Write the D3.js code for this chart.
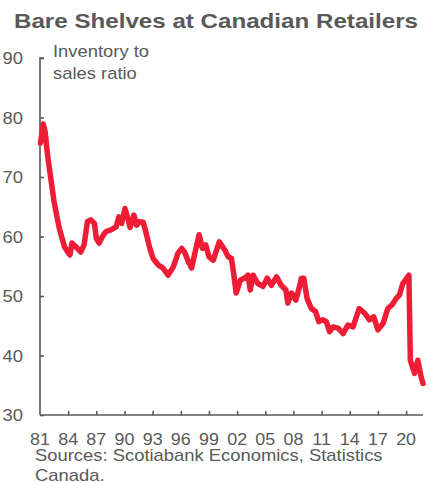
<!DOCTYPE html>
<html>
<head>
<meta charset="utf-8">
<script src="https://cdn.jsdelivr.net/npm/d3@7"></script>
<style>
  html, body { margin: 0; padding: 0; background: #ffffff; }
  svg { display: block; font-family: "Liberation Sans", Arial, sans-serif; }
</style>
</head>
<body>
<svg id="chart" width="440" height="483"></svg>
<script>
// Inventory-to-sales ratio, Canadian retailers (decimal year, ratio)
const years = [
  1981.05, 1981.35, 1981.55, 1981.8, 1982.2, 1982.5, 1983.05, 1983.6, 1983.95, 1984.2,
  1984.4, 1984.8, 1985.35, 1985.7, 1986.05, 1986.4, 1986.8, 1987.0, 1987.3, 1987.65,
  1988.0, 1988.55, 1989.1, 1989.4, 1989.7, 1990.05, 1990.4, 1990.6, 1991.0, 1991.3,
  1991.6, 1992.0, 1992.35, 1992.7, 1993.05, 1993.6, 1994.1, 1994.65, 1995.2, 1995.7,
  1996.1, 1996.4, 1996.8, 1997.15, 1997.5, 1997.95, 1998.3, 1998.65, 1999.0, 1999.45,
  2000.1, 2000.7, 2001.05, 2001.4, 2001.65, 2001.9, 2002.35, 2002.8, 2003.15, 2003.4,
  2003.7, 2004.2, 2004.75, 2005.2, 2005.65, 2006.2, 2006.7, 2007.2, 2007.4, 2007.8,
  2008.25, 2008.6, 2008.85, 2009.1, 2009.45, 2009.9, 2010.35, 2010.7, 2011.15, 2011.5,
  2011.85, 2012.2, 2012.75, 2013.3, 2013.8, 2014.35, 2015.0, 2015.6, 2016.1, 2016.55,
  2017.0, 2017.55, 2018.05, 2018.5, 2018.95, 2019.3, 2019.65, 2020.3, 2020.45, 2020.9,
  2021.25, 2021.6, 2021.8
];
const ratio = [
  75.7, 78.9, 77.6, 73.7, 69.2, 65.8, 61.4, 58.3, 57.4, 56.9,
  58.9, 58.3, 57.4, 58.6, 62.5, 62.8, 62.2, 59.7, 58.9, 60.0,
  60.8, 61.1, 61.6, 63.3, 62.2, 64.7, 62.8, 61.5, 63.6, 61.9,
  62.5, 62.4, 60.3, 58.0, 56.3, 55.2, 54.7, 53.5, 54.9, 57.2,
  58.0, 57.4, 55.8, 54.7, 57.2, 60.3, 58.0, 58.6, 56.6, 56.0,
  59.1, 57.7, 56.6, 56.3, 53.5, 50.5, 52.7, 53.0, 53.5, 51.0,
  53.5, 52.1, 51.6, 53.0, 51.8, 53.2, 51.8, 51.0, 48.8, 50.5,
  49.3, 51.3, 53.0, 53.0, 49.6, 47.9, 47.4, 45.7, 46.0, 45.7,
  44.0, 44.8, 44.6, 43.7, 45.1, 44.8, 47.9, 47.1, 46.0, 46.5,
  44.3, 45.4, 47.9, 48.5, 49.6, 50.2, 52.1, 53.5, 39.2, 37.0,
  39.2, 36.4, 35.3
];
const xTicks = [1981, 1984, 1987, 1990, 1993, 1996, 1999, 2002, 2005, 2008, 2011, 2014, 2017, 2020];
const yTicks = [30, 40, 50, 60, 70, 80, 90];

const title = "Bare Shelves at Canadian Retailers";
const unitLines = ["Inventory to", "sales ratio"];
const sourceLines = ["Sources: Scotiabank Economics, Statistics", "Canada."];

const grey = "#595959";
const lineRed = "#ee1c34";

const svg = d3.select("#chart");

const x = d3.scaleLinear().domain([1981, 2021.8]).range([40, 423]);
const y = d3.scaleLinear().domain([30, 90]).range([415, 58]);

// Title
svg.append("text")
  .attr("x", 14).attr("y", 27.5)
  .attr("font-size", 21).attr("font-weight", "bold")
  .attr("fill", grey)
  .attr("textLength", 404).attr("lengthAdjust", "spacingAndGlyphs")
  .text(title);

// Axes
const yAxis = d3.axisRight(y).tickValues(yTicks).tickSize(4).tickFormat("");
const gy = svg.append("g").attr("transform", `translate(${x(1981)},0)`).call(yAxis);
gy.select(".domain").attr("d", `M4,${y(90)}H0V${y(30)}`);

const xAxis = d3.axisTop(x).tickValues(xTicks.slice(1)).tickSize(4).tickFormat("");
const gx = svg.append("g").attr("transform", `translate(0,${y(30)})`).call(xAxis);
gx.select(".domain").attr("d", `M${x(1981)},0H${x.range()[1]}`);

svg.selectAll(".domain, .tick line").attr("stroke", grey).attr("stroke-width", 1.6);

// Y tick labels
svg.append("g").selectAll("text").data(yTicks).join("text")
  .attr("transform", d => `translate(23,${y(d) + 6}) scale(1.15,1)`)
  .attr("text-anchor", "end")
  .attr("font-size", 16).attr("fill", grey)
  .text(d => d);

// X tick labels (two-digit years)
svg.append("g").selectAll("text").data(xTicks).join("text")
  .attr("transform", d => `translate(${x(d)},445) scale(1.12,1)`)
  .attr("text-anchor", "middle")
  .attr("font-size", 16).attr("fill", grey)
  .text(d => String(d).slice(2));

// Unit annotation
svg.append("g").selectAll("text").data(unitLines).join("text")
  .attr("transform", (d, i) => `translate(53,${57 + i * 22}) scale(1.15,1)`)
  .attr("font-size", 16).attr("fill", grey)
  .text(d => d);

// Source note
svg.append("g").selectAll("text").data(sourceLines).join("text")
  .attr("transform", (d, i) => `translate(35,${461 + i * 20}) scale(1.15,1)`)
  .attr("font-size", 16).attr("fill", grey)
  .text(d => d);

// Series line
const series = years.map((yr, i) => ({ yr, v: ratio[i] }));
svg.append("path")
  .datum(series)
  .attr("fill", "none")
  .attr("stroke", lineRed)
  .attr("stroke-width", 5.5)
  .attr("stroke-linejoin", "round")
  .attr("stroke-linecap", "round")
  .attr("d", d3.line().x(d => x(d.yr)).y(d => y(d.v)));
</script>
</body>
</html>
